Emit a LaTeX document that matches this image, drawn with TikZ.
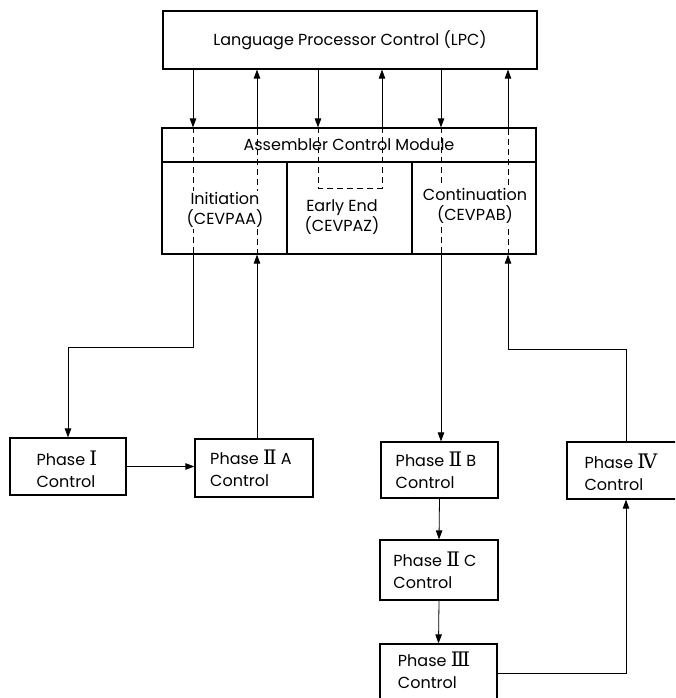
\documentclass[tikz,border=0pt]{standalone}
\usepackage{fontspec}
\setmainfont{Poppins}
\newfontfamily\romfont{DejaVu Serif}[Scale=1.25]
\usetikzlibrary{arrows.meta}
\newcommand{\rnum}[1]{{\romfont #1}}
\begin{document}
\begin{tikzpicture}[x=1pt,y=-1pt,
  blk/.style={draw, line width=1.2pt, inner sep=0pt},
  txt/.style={font=\fontsize{16}{20}\selectfont},
  lbl/.style={txt, align=left, inner sep=1pt},
  phs/.style={lbl, font=\fontsize{16}{22}\selectfont},
  link/.style={line width=0.8pt},
  tip/.style={-{Triangle[length=9pt,width=6.5pt]}},
  hid/.style={line width=0.8pt, dash pattern=on 6pt off 4pt},
]
\fill[white] (0,0) rectangle (675,698);
\clip (0,0) rectangle (675,698);

% upper control blocks
\node[blk, txt, minimum width=374pt, minimum height=58pt] (lpc) at (350,40) {Language Processor Control (LPC)};
\node[blk, txt, minimum width=374pt, minimum height=34pt] (acmhead) at (349,145) {Assembler Control Module};
\node[blk, minimum width=125pt, minimum height=92pt] (init)  at (224.5,208) {};
\node[blk, minimum width=125pt, minimum height=92pt] (early) at (349.5,208) {};
\node[blk, minimum width=124pt, minimum height=92pt] (cont)  at (474,208) {};

% phase blocks
\node[blk, minimum width=116pt, minimum height=57pt] (p1)  at (68,466.5) {};
\node[blk, minimum width=118pt, minimum height=58pt] (p2a) at (254,468) {};
\node[blk, minimum width=117pt, minimum height=56pt] (p2b) at (439.5,470) {};
\node[blk, minimum width=118pt, minimum height=60pt] (p2c) at (439,570) {};
\node[blk, minimum width=117pt, minimum height=58pt] (p3)  at (438.5,673) {};
\node[blk, minimum width=118pt, minimum height=57pt] (p4)  at (626,470.5) {};

% columns of the control lines
\coordinate (c1) at (193,0);
\coordinate (c2) at (257,0);
\coordinate (c3) at (318,0);
\coordinate (c4) at (382,0);
\coordinate (c5) at (441,0);
\coordinate (c6) at (508,0);
\coordinate (b1) at (193,347);
\coordinate (b6) at (508,349);
\coordinate (e3) at (318,188);
\coordinate (e4) at (382,188);

% initiation path
\draw[link,tip] (lpc.south -| c1) -- (acmhead.north -| c1);
\draw[hid] (acmhead.north -| c1) -- (init.south -| c1);
\draw[link,tip] (init.south -| c1) -- (b1) -| (p1.north);
\draw[link,tip] (p1.east) -- (p1.east -| p2a.west);
\draw[link,tip] (p2a.north -| c2) -- (init.south -| c2);
\draw[hid] (init.south -| c2) -- (acmhead.north -| c2);
\draw[link,tip] (acmhead.north -| c2) -- (lpc.south -| c2);

% early end path
\draw[link,tip] (lpc.south -| c3) -- (acmhead.north -| c3);
\draw[hid] (acmhead.north -| c3) -- (e3) -- (e4) -- (acmhead.north -| c4);
\draw[link,tip] (acmhead.north -| c4) -- (lpc.south -| c4);

% continuation path
\draw[link,tip] (lpc.south -| c5) -- (acmhead.north -| c5);
\draw[hid] (acmhead.north -| c5) -- (cont.south -| c5);
\draw[link,tip] (cont.south -| c5) -- (p2b.north -| c5);
\draw[link,tip] (p2b.south) -- (p2c.north);
\draw[link,tip] (p2c.south) -- (p3.north);
\draw[link,tip] (p3.east) -| (p4.south);
\draw[link,tip] (p4.north) |- (b6) -- (cont.south -| c6);
\draw[hid] (cont.south -| c6) -- (acmhead.north -| c6);
\draw[link,tip] (acmhead.north -| c6) -- (lpc.south -| c6);

% compartment labels
\node[lbl, fill=white, align=center] (initT)  at (225,210) {Initiation\\(CEVPAA)};
\node[lbl, fill=white, align=center] (earlyT) at (342,217) {Early End\\(CEVPAZ)};
\node[lbl, fill=white, align=center] (contT)  at (475,206) {Continuation\\(CEVPAB)};

% phase labels
\node[phs] (p1T)  at (67,469)  {Phase \rnum{Ⅰ}\\Control};
\node[phs] (p2aT) at (251,468) {Phase \rnum{Ⅱ} A\\Control};
\node[phs] (p2bT) at (436,470) {Phase \rnum{Ⅱ} B\\Control};
\node[phs] (p2cT) at (435,570) {Phase \rnum{Ⅱ} C\\Control};
\node[phs] (p3T)  at (434,670) {Phase \rnum{Ⅲ}\\Control};
\node[phs] (p4T)  at (621,472) {Phase \rnum{Ⅳ}\\Control};
\end{tikzpicture}
\end{document}
